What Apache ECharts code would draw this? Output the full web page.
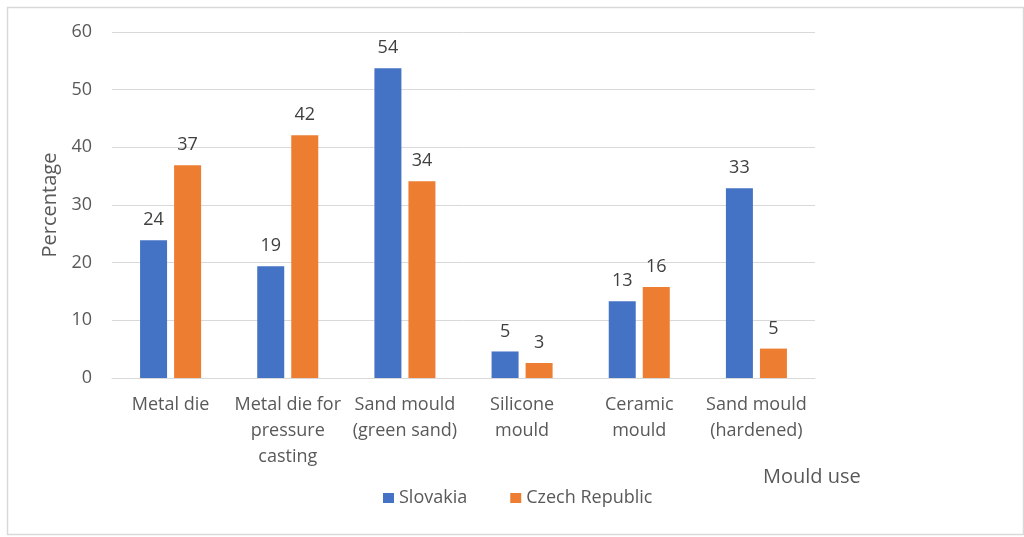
<!DOCTYPE html>
<html>
<head>
<meta charset="utf-8">
<script src="https://cdn.jsdelivr.net/npm/echarts@6/dist/echarts.min.js"></script>
<style>
html,body{margin:0;padding:0;background:#fff;}
#chart{width:1024px;height:537px;}
</style>
</head>
<body>
<div id="chart"></div>
<script>
var categories = ["Metal die", "Metal die for\npressure\ncasting", "Sand mould\n(green sand)", "Silicone\nmould", "Ceramic\nmould", "Sand mould\n(hardened)"];
var slovakia = [23.9, 19.4, 53.7, 4.6, 13.3, 32.9];
var czech = [36.9, 42.1, 34.1, 2.6, 15.8, 5.1];
var yTicks = [0, 10, 20, 30, 40, 50, 60];

var FONT = "Open Sans";
var chart = echarts.init(document.getElementById('chart'));
var labelCfg = {
  show: true, position: 'top', distance: 11,
  color: '#404040', fontSize: 18, fontFamily: FONT,
  formatter: function (p) { return Math.round(p.value); }
};
chart.setOption({
  animation: false,
  backgroundColor: '#fff',
  textStyle: { fontFamily: FONT },
  graphic: [{
    type: 'rect', left: 5, top: 5,
    shape: { width: 1016, height: 527 },
    style: { fill: 'none', stroke: '#d9d9d9', lineWidth: 1.5 }
  }],
  title: {
    text: 'Mould use', left: 758, top: 462,
    textStyle: { fontSize: 20, fontWeight: 'normal', color: '#595959', fontFamily: FONT }
  },
  legend: {
    data: ['Slovakia', 'Czech Republic'],
    left: 378, top: 484,
    icon: 'rect', itemWidth: 11, itemHeight: 10, itemGap: 43,
    textStyle: { fontSize: 18, color: '#595959', fontFamily: FONT }
  },
  grid: { left: 112, right: 209, top: 32, bottom: 159, containLabel: false },
  xAxis: {
    type: 'category', data: categories,
    axisLine: { lineStyle: { color: '#d9d9d9' } },
    axisTick: { show: false },
    axisLabel: { interval: 0, color: '#595959', fontSize: 18, lineHeight: 26, margin: 14, fontFamily: FONT }
  },
  yAxis: {
    type: 'value', min: 0, max: 60, interval: 10,
    name: 'Percentage', nameLocation: 'middle', nameGap: 45, nameRotate: 90,
    nameTextStyle: { fontSize: 20, color: '#595959', fontFamily: FONT },
    axisLine: { show: false }, axisTick: { show: false },
    axisLabel: { color: '#595959', fontSize: 18, margin: 20, fontFamily: FONT,
      formatter: function (v) { return yTicks.indexOf(v) >= 0 ? String(v) : ''; } },
    splitLine: { lineStyle: { color: '#d9d9d9' } }
  },
  series: [
    { name: 'Slovakia', type: 'bar', data: slovakia, barWidth: 27, barGap: '26%',
      itemStyle: { color: '#4472C4' }, label: labelCfg },
    { name: 'Czech Republic', type: 'bar', data: czech, barWidth: 27,
      itemStyle: { color: '#ED7D31' }, label: labelCfg }
  ]
});
</script>
</body>
</html>
